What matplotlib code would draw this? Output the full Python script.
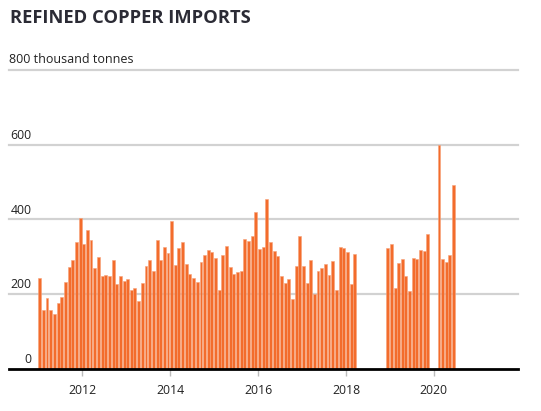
import datetime as dt

import numpy as np
import pandas as pd
import matplotlib
matplotlib.use('Agg')
import matplotlib.pyplot as plt
import matplotlib.dates as mdates

# monthly refined copper imports, thousand tonnes (None = no data)
y2011 = [243, 157, 190, 159, 148, 176, 192, 234, 274, 292, 341, 405]
y2012 = [334, 373, 344, 271, 300, 248, 252, 248, 292, 228, 248, 236]
y2013 = [242, 212, 216, 181, 229, 276, 291, 261, 346, 291, 327, 310]
y2014 = [396, 277, 323, 339, 281, 253, 243, 233, 287, 304, 318, 313]
y2015 = [298, 211, 305, 328, 273, 253, 259, 261, 349, 342, 357, 421]
y2016 = [322, 326, 456, 340, 317, 303, 249, 229, 240, 188, 275, 357]
y2017 = [276, 231, 291, 200, 263, 269, 281, 252, 288, 211, 327, 325]
y2018 = [312, 227, 307, None, None, None, None, None, None, None, None, 324]
y2019 = [335, 216, 283, 293, 248, 210, 296, 293, 319, 315, 360, None]
y2020 = [None, 599, 293, 286, 304, 492]

values = y2011 + y2012 + y2013 + y2014 + y2015 + y2016 + y2017 + y2018 + y2019 + y2020
months = pd.date_range('2011-01-01', periods=len(values), freq='MS')

yticks = [0, 200, 400, 600]
tick_years = [2012, 2014, 2016, 2018, 2020]

plt.rcParams['font.family'] = ['Open Sans', 'DejaVu Sans']

fig = plt.figure(figsize=(5.41, 4.11), dpi=100)
ax = fig.add_axes([9/541, 42/411, 509/541, 299/411])

ok = [v is not None for v in values]
xs = [m for m, k in zip(months, ok) if k]
vs = [v for v, k in zip(values, ok) if k]
ax.bar(xs, vs, width=24, align='edge', color='#f36c2c', edgecolor='#f7a27a', linewidth=0.4, zorder=3)

ax.set_ylim(0, 800)
ax.set_xlim(dt.date(2010, 5, 1), dt.date(2021, 12, 1))

# gridlines
for v in [200, 400, 600, 800]:
    ax.axhline(v, color='#d2d2d2', linewidth=1.6, zorder=1, clip_on=False)
ax.axhline(0, color='black', linewidth=2, zorder=4, clip_on=False)

for s in ax.spines.values():
    s.set_visible(False)
ax.set_yticks([])

# y labels sit above the gridlines
tr = ax.get_yaxis_transform()
for v in yticks:
    ax.text(0.044, v + 8, str(v), transform=tr, ha='right', va='bottom', fontsize=8.8, color='#222222')
ax.text(0.0, 800 + 10, '800 thousand tonnes', transform=tr, ha='left', va='bottom', fontsize=9, color='#222222')

ax.set_xticks([dt.date(y, 1, 1) for y in tick_years])
ax.xaxis.set_major_formatter(mdates.DateFormatter('%Y'))
ax.tick_params(axis='x', length=5, width=1, color='#bbbbbb', pad=6, labelsize=8.8, labelcolor='#222222')

fig.text(10/541, 1 - 18/411, 'REFINED COPPER IMPORTS', ha='left', va='center',
         fontsize=13.2, fontweight='bold', color='#2b2b35')

fig.savefig('out.png', dpi=100)
